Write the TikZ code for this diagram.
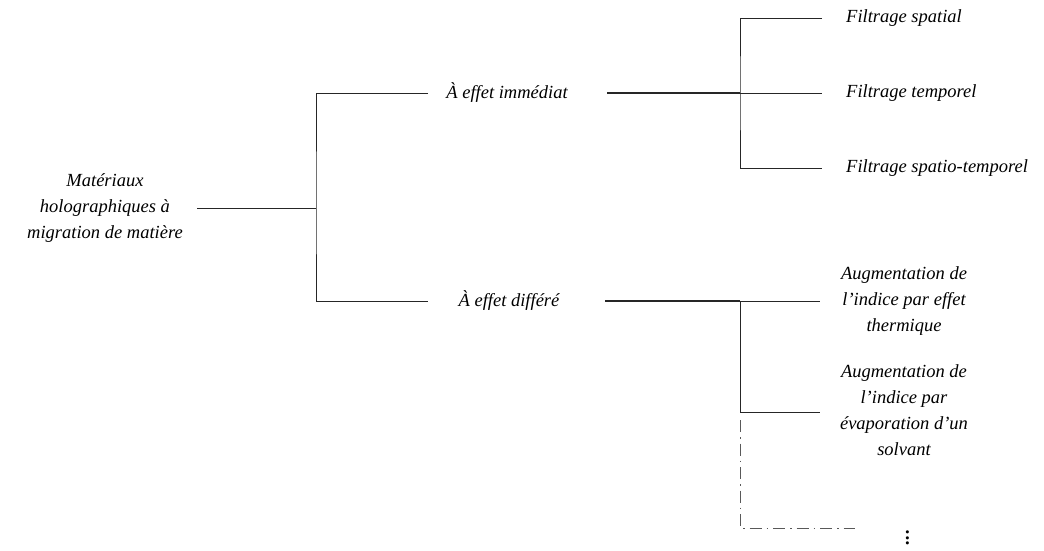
\documentclass[tikz,border=0pt]{standalone}
\usepackage{fontspec}
\setmainfont{Liberation Serif}
\begin{document}
\begin{tikzpicture}[
  x=1pt, y=-1pt,
  % GLOBAL CFG
  font=\fontsize{18.5}{26}\selectfont\itshape,
  % Styles
  term/.style={% For the texts
      inner sep=0pt,
      align=center,
      },
  leaf/.style={% For the texts at the right
      inner sep=0pt,
      anchor=west,
      },
  branch/.style={% For the tree lines
      line width=0.8pt,
      color=black!85,
      },
  more/.style={% For the open end of the tree
      line width=0.9pt,
      color=black!65,
      dash pattern=on 12pt off 5pt on 1.5pt off 5pt,
      },
  ]
  \useasboundingbox (0,0) rectangle (1044,550);

  % Texts
  \node [term] (root) at (105,208) {Matériaux\\holographiques à\\migration de matière};
  \node [term] (imm) at (507,93) {À effet immédiat};
  \node [term] (dif) at (509,301) {À effet différé};
  \node [leaf] (spatial) at (846,18) {Filtrage spatial};
  \node [leaf] (temporel) at (846,93) {Filtrage temporel};
  \node [leaf] (spatiotemp) at (846,168) {Filtrage spatio-temporel};
  \node [term] (thermique) at (904,301) {Augmentation de\\l'indice par effet\\thermique};
  \node [term] (solvant) at (904,410) {Augmentation de\\l'indice par\\évaporation d'un\\solvant};
  \node [inner sep=0pt, scale=1.4] (dots) at (908,534) {$\vdots$};

  % Line ends
  \coordinate (root-out) at (197,208);
  \coordinate (fork) at (316,208);
  \coordinate (imm-in) at (428,93);
  \coordinate (dif-in) at (428,301);
  \coordinate (imm-out) at (607,93);
  \coordinate (imm-fork) at (740,93);
  \coordinate (dif-out) at (605,301);
  \coordinate (dif-fork) at (740,301);
  \coordinate (spatial-in) at (822,18);
  \coordinate (temporel-in) at (822,93);
  \coordinate (spatiotemp-in) at (822,168);
  \coordinate (thermique-in) at (820,301);
  \coordinate (solvant-in) at (820,412);
  \coordinate (more-top) at (740,420);
  \coordinate (more-corner) at (740,528);
  \coordinate (more-end) at (855,528);

  % Tree
  \draw [branch] (root-out) -- (fork);
  \draw [branch] (imm-in) -| (fork) |- (dif-in);
  \draw [branch, line width=1.2pt] (imm-out) -- (imm-fork);
  \draw [branch] (spatial-in) -| (imm-fork) |- (spatiotemp-in);
  \draw [branch] (imm-fork) -- (temporel-in);
  \draw [branch, line width=1.2pt] (dif-out) -- (dif-fork);
  \draw [branch] (dif-fork) -- (thermique-in);
  \draw [branch] (dif-fork) |- (solvant-in);
  \draw [more] (more-top) -- (more-corner) -- (more-end);

\end{tikzpicture}
\end{document}
